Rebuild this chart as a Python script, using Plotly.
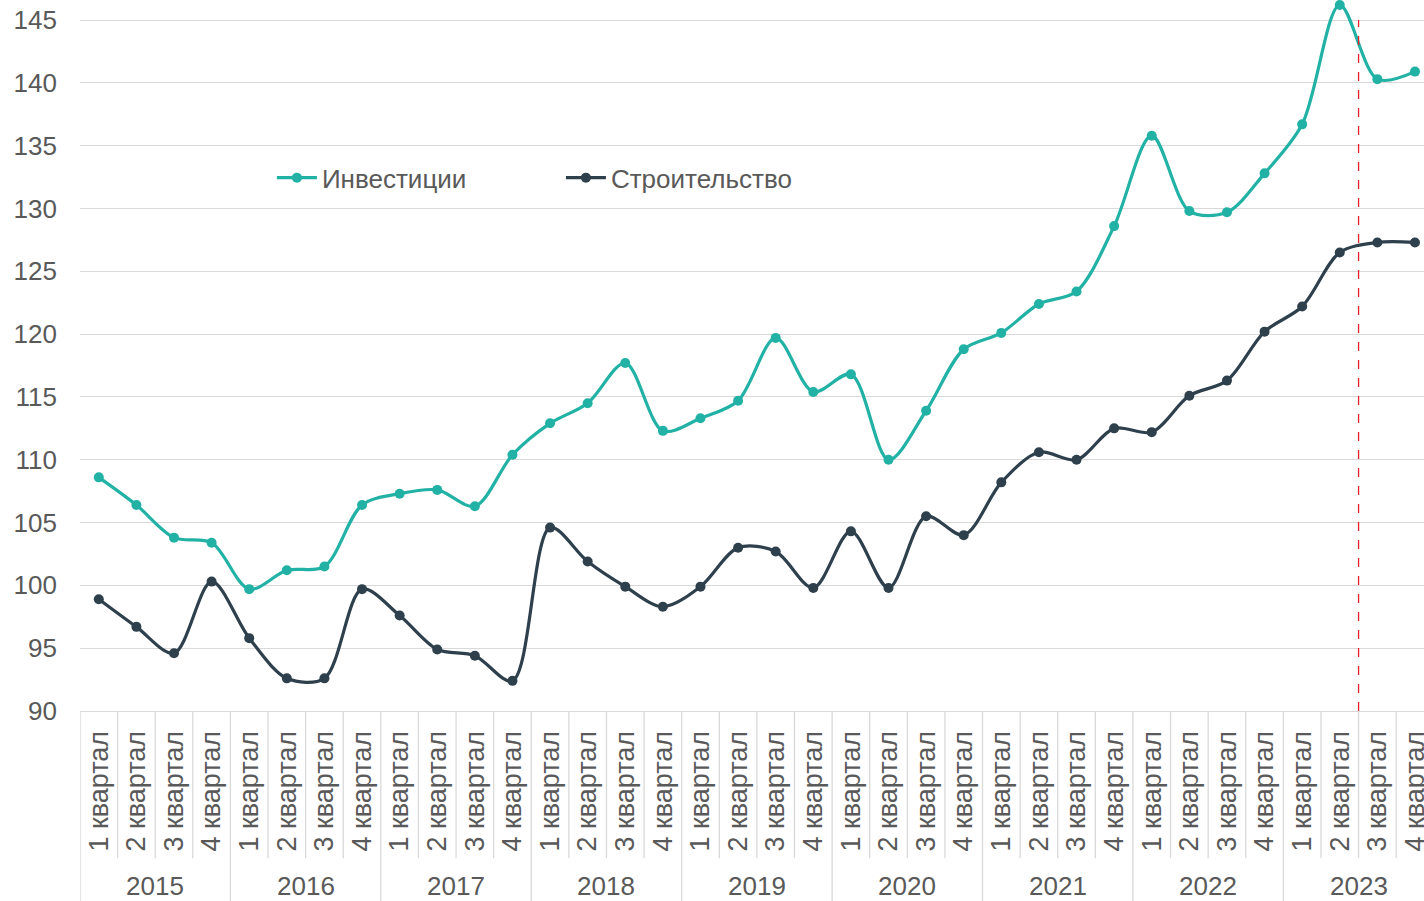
import plotly.graph_objects as go

years = ["2015", "2016", "2017", "2018", "2019", "2020", "2021", "2022", "2023"]
quarters = ["1 квартал", "2 квартал", "3 квартал", "4 квартал"]

investments = [108.6, 106.4, 103.8, 103.4,
               99.7, 101.2, 101.5, 106.4,
               107.3, 107.6, 106.3, 110.4,
               112.9, 114.5, 117.7, 112.3,
               113.3, 114.7, 119.7, 115.4,
               116.8, 110.0, 113.9, 118.8,
               120.1, 122.4, 123.4, 128.6,
               135.8, 129.8, 129.7, 132.8,
               136.7, 146.2, 140.3, 140.9]
construction = [98.9, 96.7, 94.6, 100.3,
                95.8, 92.6, 92.6, 99.7,
                97.6, 94.9, 94.4, 92.4,
                104.6, 101.9, 99.9, 98.3,
                99.9, 103.0, 102.7, 99.8,
                104.3, 99.8, 105.5, 104.0,
                108.2, 110.6, 110.0, 112.5,
                112.2, 115.1, 116.3, 120.2,
                122.2, 126.5, 127.3, 127.3]

series_names = ["Инвестиции", "Строительство"]
colors = ["#22B2A5", "#2E404C"]
forecast_after = "2 квартал 2023"

labels = [q for y in years for q in quarters]
xpos = list(range(len(labels)))
split_idx = [f"{q} {y}" for y in years for q in quarters].index(forecast_after) + 0.5

FONT = "Liberation Sans, Arial, sans-serif"
TXT = "#595959"
GRID = "#D9D9D9"

fig = go.Figure()
for name, vals, col in zip(series_names, [investments, construction], colors):
    fig.add_trace(go.Scatter(
        x=xpos, y=vals, name=name, mode="lines+markers",
        line=dict(color=col, width=3.2, shape="spline", smoothing=0.9),
        marker=dict(color=col, size=10),
    ))

# category separators below the axis
shapes = []
n = len(labels)
for i in range(n + 1):
    xb = i - 0.5
    is_year = (i % 4 == 0)
    shapes.append(dict(type="line", xref="x", yref="paper", x0=xb, x1=xb,
                       y0=0, y1=-0.268 if is_year else -0.207,
                       line=dict(color=GRID, width=1.3), layer="above"))
# forecast divider
shapes.append(dict(type="line", xref="x", yref="y", x0=split_idx, x1=split_idx,
                   y0=90, y1=145, line=dict(color="#E8202A", width=1.3, dash="dash")))

annotations = []
for k, yr in enumerate(years):
    annotations.append(dict(x=4 * k + 1.5, y=-0.2465, xref="x", yref="paper",
                            text=yr, showarrow=False, yanchor="middle",
                            font=dict(family=FONT, size=26, color=TXT)))

fig.update_layout(
    width=1424, height=901,
    margin=dict(l=80, r=0, t=0, b=190, autoexpand=False),
    paper_bgcolor="white", plot_bgcolor="white",
    font=dict(family=FONT, size=26, color=TXT),
    shapes=shapes, annotations=annotations,
    legend=dict(orientation="h", x=0.1428, y=0.75, xanchor="left", yanchor="middle",
                font=dict(family=FONT, size=26, color=TXT), entrywidth=234,
                itemwidth=40, bgcolor="rgba(0,0,0,0)", tracegroupgap=0),
    showlegend=True,
)
fig.update_xaxes(
    range=[-0.5, 35.24], tickmode="array", tickvals=xpos, ticktext=labels,
    tickangle=-90, showgrid=False, zeroline=False, showline=True,
    linecolor=GRID, linewidth=1.3, ticks="", ticklabelstandoff=8,
    ticklabeloverflow="allow", automargin=False,
    tickfont=dict(family=FONT, size=27, color=TXT),
)
fig.update_yaxes(
    range=[90, 146.6], tickvals=list(range(90, 146, 5)), showgrid=True,
    gridcolor=GRID, gridwidth=1.3, zeroline=False, showline=False, ticks="",
    ticklabelstandoff=22, automargin=False,
    tickfont=dict(family=FONT, size=26, color=TXT),
)

fig.write_html("out.html", config={"displayModeBar": False},
               post_script="document.body.style.margin='0px';document.body.style.overflow='hidden';")
